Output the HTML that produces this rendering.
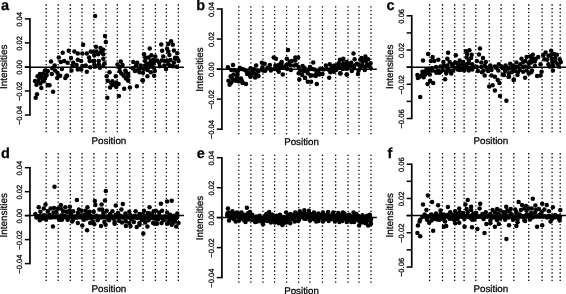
<!DOCTYPE html>
<html><head><meta charset="utf-8"><title>Intensities by position</title>
<style>html,body{margin:0;padding:0;background:#fff}svg text{font-family:"Liberation Sans",sans-serif;fill:#000;stroke:#000;stroke-width:.25px;font-kerning:none;text-rendering:geometricPrecision}.t{stroke:#000;stroke-width:.25}</style>
</head><body>
<svg width="566" height="294" viewBox="0 0 566 294" style="display:block;will-change:transform;filter:grayscale(1)"><rect width="566" height="294" fill="#fff"/><g><line x1="46.20" y1="4.35" x2="46.20" y2="132.37" stroke="#000" stroke-width="1.3" stroke-dasharray="1.3 2.427"/><line x1="58.20" y1="4.35" x2="58.20" y2="132.37" stroke="#000" stroke-width="1.3" stroke-dasharray="1.3 2.427"/><line x1="70.30" y1="4.35" x2="70.30" y2="132.37" stroke="#000" stroke-width="1.3" stroke-dasharray="1.3 2.427"/><line x1="82.00" y1="4.35" x2="82.00" y2="132.37" stroke="#000" stroke-width="1.3" stroke-dasharray="1.3 2.427"/><line x1="93.90" y1="4.35" x2="93.90" y2="132.37" stroke="#000" stroke-width="1.3" stroke-dasharray="1.3 2.427"/><line x1="106.00" y1="4.35" x2="106.00" y2="132.37" stroke="#000" stroke-width="1.3" stroke-dasharray="1.3 2.427"/><line x1="117.30" y1="4.35" x2="117.30" y2="132.37" stroke="#000" stroke-width="1.3" stroke-dasharray="1.3 2.427"/><line x1="129.80" y1="4.35" x2="129.80" y2="132.37" stroke="#000" stroke-width="1.3" stroke-dasharray="1.3 2.427"/><line x1="143.00" y1="4.35" x2="143.00" y2="132.37" stroke="#000" stroke-width="1.3" stroke-dasharray="1.3 2.427"/><line x1="155.40" y1="4.35" x2="155.40" y2="132.37" stroke="#000" stroke-width="1.3" stroke-dasharray="1.3 2.427"/><line x1="166.35" y1="4.35" x2="166.35" y2="132.37" stroke="#000" stroke-width="1.3" stroke-dasharray="1.3 2.427"/><line x1="178.35" y1="4.35" x2="178.35" y2="132.37" stroke="#000" stroke-width="1.3" stroke-dasharray="1.3 2.427"/><line x1="29.95" y1="18.15" x2="29.95" y2="115.75" stroke="#000" stroke-width="1.7"/><line x1="24.85" y1="18.90" x2="29.95" y2="18.90" stroke="#000" stroke-width="1.5"/><text transform="translate(21.90,19.40) rotate(-90)" font-size="7.6" text-anchor="middle">0.04</text><line x1="24.85" y1="42.92" x2="29.95" y2="42.92" stroke="#000" stroke-width="1.5"/><text transform="translate(21.90,43.42) rotate(-90)" font-size="7.6" text-anchor="middle">0.02</text><line x1="24.85" y1="66.95" x2="29.95" y2="66.95" stroke="#000" stroke-width="1.5"/><text transform="translate(21.90,67.45) rotate(-90)" font-size="7.6" text-anchor="middle">0.00</text><line x1="24.85" y1="90.97" x2="29.95" y2="90.97" stroke="#000" stroke-width="1.5"/><text transform="translate(21.90,91.47) rotate(-90)" font-size="7.6" text-anchor="middle">−0.02</text><line x1="24.85" y1="115.00" x2="29.95" y2="115.00" stroke="#000" stroke-width="1.5"/><text transform="translate(21.90,115.50) rotate(-90)" font-size="7.6" text-anchor="middle">−0.04</text><line x1="24.85" y1="67.15" x2="184.0" y2="67.15" stroke="#000" stroke-width="1.5"/><text transform="translate(7.00,66.80) rotate(-90)" font-size="9.9" text-anchor="middle">Intensities</text><text x="91.60" y="143.50" font-size="9.75">Position</text><text x="1.10" y="10.20" font-size="14.5" font-weight="bold">a</text><circle cx="51.0" cy="61.5" r="2.25"/><circle cx="58.8" cy="57.6" r="2.25"/><circle cx="62.7" cy="52.8" r="2.25"/><circle cx="68.7" cy="50.8" r="2.25"/><circle cx="74.4" cy="51.4" r="2.25"/><circle cx="77.8" cy="53.6" r="2.25"/><circle cx="82.3" cy="53.6" r="2.25"/><circle cx="86.8" cy="53.6" r="2.25"/><circle cx="90.8" cy="51.4" r="2.25"/><circle cx="83.2" cy="44.8" r="2.25"/><circle cx="71.0" cy="58.1" r="2.25"/><circle cx="64.2" cy="61.0" r="2.25"/><circle cx="60.8" cy="62.1" r="2.25"/><circle cx="67.6" cy="62.7" r="2.25"/><circle cx="77.8" cy="59.8" r="2.25"/><circle cx="81.2" cy="61.0" r="2.25"/><circle cx="73.2" cy="62.7" r="2.25"/><circle cx="89.1" cy="57.6" r="2.25"/><circle cx="89.7" cy="61.0" r="2.25"/><circle cx="54.6" cy="65.5" r="2.25"/><circle cx="72.7" cy="66.1" r="2.25"/><circle cx="76.6" cy="64.9" r="2.25"/><circle cx="82.3" cy="66.1" r="2.25"/><circle cx="85.7" cy="65.5" r="2.25"/><circle cx="90.2" cy="67.2" r="2.25"/><circle cx="61.9" cy="68.9" r="2.25"/><circle cx="71.5" cy="70.6" r="2.25"/><circle cx="77.8" cy="69.5" r="2.25"/><circle cx="81.2" cy="69.5" r="2.25"/><circle cx="86.8" cy="71.7" r="2.25"/><circle cx="52.3" cy="68.3" r="2.25"/><circle cx="55.1" cy="70.6" r="2.25"/><circle cx="57.4" cy="72.8" r="2.25"/><circle cx="45.0" cy="70.6" r="2.25"/><circle cx="47.8" cy="71.1" r="2.25"/><circle cx="43.3" cy="73.4" r="2.25"/><circle cx="39.9" cy="74.0" r="2.25"/><circle cx="46.7" cy="75.1" r="2.25"/><circle cx="51.8" cy="74.0" r="2.25"/><circle cx="66.5" cy="75.7" r="2.25"/><circle cx="58.5" cy="75.7" r="2.25"/><circle cx="37.6" cy="76.2" r="2.25"/><circle cx="35.0" cy="81.0" r="2.25"/><circle cx="36.5" cy="84.7" r="2.25"/><circle cx="39.3" cy="77.9" r="2.25"/><circle cx="40.4" cy="83.6" r="2.25"/><circle cx="41.3" cy="88.1" r="2.25"/><circle cx="42.7" cy="80.7" r="2.25"/><circle cx="45.0" cy="77.9" r="2.25"/><circle cx="47.8" cy="85.3" r="2.25"/><circle cx="49.5" cy="85.3" r="2.25"/><circle cx="53.1" cy="91.8" r="2.25"/><circle cx="37.0" cy="94.3" r="2.25"/><circle cx="35.7" cy="97.7" r="2.25"/><circle cx="57.2" cy="77.9" r="2.25"/><circle cx="60.2" cy="75.7" r="2.25"/><circle cx="65.3" cy="77.9" r="2.25"/><circle cx="67.0" cy="75.7" r="2.25"/><circle cx="105.0" cy="36.1" r="2.25"/><circle cx="105.8" cy="42.0" r="2.25"/><circle cx="96.0" cy="46.8" r="2.25"/><circle cx="100.5" cy="48.0" r="2.25"/><circle cx="149.7" cy="48.5" r="2.25"/><circle cx="95.1" cy="15.9" r="2.25"/><circle cx="103.3" cy="49.7" r="2.25"/><circle cx="93.1" cy="51.9" r="2.25"/><circle cx="98.2" cy="54.2" r="2.25"/><circle cx="94.3" cy="55.3" r="2.25"/><circle cx="103.3" cy="58.7" r="2.25"/><circle cx="98.8" cy="61.0" r="2.25"/><circle cx="104.4" cy="63.2" r="2.25"/><circle cx="94.3" cy="64.4" r="2.25"/><circle cx="99.9" cy="67.8" r="2.25"/><circle cx="93.1" cy="61.0" r="2.25"/><circle cx="109.5" cy="72.3" r="2.25"/><circle cx="106.7" cy="76.2" r="2.25"/><circle cx="120.8" cy="61.5" r="2.25"/><circle cx="117.5" cy="64.4" r="2.25"/><circle cx="122.5" cy="64.9" r="2.25"/><circle cx="119.7" cy="71.1" r="2.25"/><circle cx="125.4" cy="70.6" r="2.25"/><circle cx="128.2" cy="74.0" r="2.25"/><circle cx="123.7" cy="75.7" r="2.25"/><circle cx="115.8" cy="76.2" r="2.25"/><circle cx="144.0" cy="54.2" r="2.25"/><circle cx="151.4" cy="55.3" r="2.25"/><circle cx="155.3" cy="56.4" r="2.25"/><circle cx="133.3" cy="62.1" r="2.25"/><circle cx="145.2" cy="61.0" r="2.25"/><circle cx="150.8" cy="61.0" r="2.25"/><circle cx="136.1" cy="65.5" r="2.25"/><circle cx="140.6" cy="65.5" r="2.25"/><circle cx="146.3" cy="64.9" r="2.25"/><circle cx="152.5" cy="64.4" r="2.25"/><circle cx="132.7" cy="68.3" r="2.25"/><circle cx="138.4" cy="69.5" r="2.25"/><circle cx="144.0" cy="68.9" r="2.25"/><circle cx="148.6" cy="67.2" r="2.25"/><circle cx="153.7" cy="67.8" r="2.25"/><circle cx="142.9" cy="72.8" r="2.25"/><circle cx="147.4" cy="76.2" r="2.25"/><circle cx="154.2" cy="75.7" r="2.25"/><circle cx="107.8" cy="80.7" r="2.25"/><circle cx="112.4" cy="81.3" r="2.25"/><circle cx="116.3" cy="82.4" r="2.25"/><circle cx="118.6" cy="84.1" r="2.25"/><circle cx="112.4" cy="84.7" r="2.25"/><circle cx="110.1" cy="87.5" r="2.25"/><circle cx="116.3" cy="87.0" r="2.25"/><circle cx="124.2" cy="88.7" r="2.25"/><circle cx="129.9" cy="87.5" r="2.25"/><circle cx="136.9" cy="86.2" r="2.25"/><circle cx="142.9" cy="80.5" r="2.25"/><circle cx="107.3" cy="97.7" r="2.25"/><circle cx="118.9" cy="96.0" r="2.25"/><circle cx="125.9" cy="78.5" r="2.25"/><circle cx="128.2" cy="80.7" r="2.25"/><circle cx="135.0" cy="70.6" r="2.25"/><circle cx="161.3" cy="44.5" r="2.25"/><circle cx="162.1" cy="50.7" r="2.25"/><circle cx="171.1" cy="41.3" r="2.25"/><circle cx="168.3" cy="44.1" r="2.25"/><circle cx="172.8" cy="44.7" r="2.25"/><circle cx="167.1" cy="48.7" r="2.25"/><circle cx="168.3" cy="51.5" r="2.25"/><circle cx="173.9" cy="50.4" r="2.25"/><circle cx="177.3" cy="53.2" r="2.25"/><circle cx="169.4" cy="54.9" r="2.25"/><circle cx="163.2" cy="56.6" r="2.25"/><circle cx="175.1" cy="57.7" r="2.25"/><circle cx="170.5" cy="60.0" r="2.25"/><circle cx="157.0" cy="60.5" r="2.25"/><circle cx="161.5" cy="60.5" r="2.25"/><circle cx="164.9" cy="61.1" r="2.25"/><circle cx="178.5" cy="61.1" r="2.25"/><circle cx="142.5" cy="80.3" r="2.25"/><circle cx="159.2" cy="62.8" r="2.25"/><circle cx="159.8" cy="66.2" r="2.25"/><circle cx="166.0" cy="69.0" r="2.25"/><circle cx="164.3" cy="65.6" r="2.25"/><circle cx="170.0" cy="65.6" r="2.25"/><circle cx="176.8" cy="66.7" r="2.25"/><circle cx="175.1" cy="58.8" r="2.25"/><circle cx="96.5" cy="51.4" r="2.25"/><circle cx="101.0" cy="51.9" r="2.25"/><circle cx="98.8" cy="64.4" r="2.25"/><circle cx="103.3" cy="66.1" r="2.25"/><circle cx="95.4" cy="66.6" r="2.25"/><circle cx="94.3" cy="61.0" r="2.25"/><circle cx="103.3" cy="54.2" r="2.25"/><circle cx="119.7" cy="67.2" r="2.25"/><circle cx="121.4" cy="73.6" r="2.25"/><circle cx="137.2" cy="62.7" r="2.25"/><circle cx="140.6" cy="68.3" r="2.25"/><circle cx="145.2" cy="65.5" r="2.25"/><circle cx="148.6" cy="63.8" r="2.25"/><circle cx="150.8" cy="66.6" r="2.25"/><circle cx="154.2" cy="62.1" r="2.25"/><circle cx="147.4" cy="70.0" r="2.25"/><circle cx="135.0" cy="71.1" r="2.25"/><circle cx="139.5" cy="72.3" r="2.25"/><circle cx="150.8" cy="72.3" r="2.25"/><circle cx="154.8" cy="71.1" r="2.25"/><circle cx="148.6" cy="57.6" r="2.25"/><circle cx="153.1" cy="59.8" r="2.25"/><circle cx="145.2" cy="57.6" r="2.25"/><circle cx="128.2" cy="76.8" r="2.25"/><circle cx="111.2" cy="83.0" r="2.25"/><circle cx="114.6" cy="85.3" r="2.25"/><circle cx="125.9" cy="72.3" r="2.25"/><circle cx="173.9" cy="62.8" r="2.25"/><circle cx="167.1" cy="60.5" r="2.25"/><circle cx="168.3" cy="63.9" r="2.25"/><circle cx="172.8" cy="66.2" r="2.25"/><circle cx="177.3" cy="58.3" r="2.25"/><circle cx="41.6" cy="76.8" r="2.25"/><circle cx="38.2" cy="81.3" r="2.25"/><circle cx="46.1" cy="75.7" r="2.25"/><circle cx="43.8" cy="81.3" r="2.25"/></g><g><line x1="238.85" y1="6.25" x2="238.85" y2="134.27" stroke="#000" stroke-width="1.3" stroke-dasharray="1.3 2.427"/><line x1="250.85" y1="6.25" x2="250.85" y2="134.27" stroke="#000" stroke-width="1.3" stroke-dasharray="1.3 2.427"/><line x1="262.95" y1="6.25" x2="262.95" y2="134.27" stroke="#000" stroke-width="1.3" stroke-dasharray="1.3 2.427"/><line x1="274.65" y1="6.25" x2="274.65" y2="134.27" stroke="#000" stroke-width="1.3" stroke-dasharray="1.3 2.427"/><line x1="286.55" y1="6.25" x2="286.55" y2="134.27" stroke="#000" stroke-width="1.3" stroke-dasharray="1.3 2.427"/><line x1="298.65" y1="6.25" x2="298.65" y2="134.27" stroke="#000" stroke-width="1.3" stroke-dasharray="1.3 2.427"/><line x1="309.95" y1="6.25" x2="309.95" y2="134.27" stroke="#000" stroke-width="1.3" stroke-dasharray="1.3 2.427"/><line x1="322.45" y1="6.25" x2="322.45" y2="134.27" stroke="#000" stroke-width="1.3" stroke-dasharray="1.3 2.427"/><line x1="335.65" y1="6.25" x2="335.65" y2="134.27" stroke="#000" stroke-width="1.3" stroke-dasharray="1.3 2.427"/><line x1="348.05" y1="6.25" x2="348.05" y2="134.27" stroke="#000" stroke-width="1.3" stroke-dasharray="1.3 2.427"/><line x1="359.00" y1="6.25" x2="359.00" y2="134.27" stroke="#000" stroke-width="1.3" stroke-dasharray="1.3 2.427"/><line x1="371.00" y1="6.25" x2="371.00" y2="134.27" stroke="#000" stroke-width="1.3" stroke-dasharray="1.3 2.427"/><line x1="221.9" y1="8.25" x2="221.9" y2="129.90" stroke="#000" stroke-width="1.7"/><line x1="216.80" y1="9.00" x2="221.90" y2="9.00" stroke="#000" stroke-width="1.5"/><text transform="translate(214.30,9.50) rotate(-90)" font-size="7.6" text-anchor="middle">0.04</text><line x1="216.80" y1="39.04" x2="221.90" y2="39.04" stroke="#000" stroke-width="1.5"/><text transform="translate(214.30,39.54) rotate(-90)" font-size="7.6" text-anchor="middle">0.02</text><line x1="216.80" y1="69.08" x2="221.90" y2="69.08" stroke="#000" stroke-width="1.5"/><text transform="translate(214.30,69.58) rotate(-90)" font-size="7.6" text-anchor="middle">0.00</text><line x1="216.80" y1="99.11" x2="221.90" y2="99.11" stroke="#000" stroke-width="1.5"/><text transform="translate(214.30,99.61) rotate(-90)" font-size="7.6" text-anchor="middle">−0.02</text><line x1="216.80" y1="129.15" x2="221.90" y2="129.15" stroke="#000" stroke-width="1.5"/><text transform="translate(214.30,129.65) rotate(-90)" font-size="7.6" text-anchor="middle">−0.04</text><line x1="216.80" y1="69.15" x2="376.8" y2="69.15" stroke="#000" stroke-width="1.5"/><text transform="translate(202.90,69.50) rotate(-90)" font-size="9.9" text-anchor="middle">Intensities</text><text x="284.20" y="144.75" font-size="9.75">Position</text><text x="196.20" y="10.20" font-size="14.5" font-weight="bold">b</text><circle cx="227.9" cy="67.2" r="2.25"/><circle cx="233.0" cy="64.9" r="2.25"/><circle cx="239.8" cy="67.8" r="2.25"/><circle cx="231.3" cy="70.0" r="2.25"/><circle cx="237.0" cy="71.1" r="2.25"/><circle cx="243.8" cy="69.5" r="2.25"/><circle cx="250.5" cy="68.3" r="2.25"/><circle cx="256.2" cy="65.5" r="2.25"/><circle cx="261.9" cy="62.7" r="2.25"/><circle cx="264.7" cy="63.8" r="2.25"/><circle cx="273.7" cy="57.6" r="2.25"/><circle cx="276.0" cy="58.7" r="2.25"/><circle cx="269.8" cy="64.9" r="2.25"/><circle cx="275.4" cy="65.5" r="2.25"/><circle cx="281.7" cy="62.1" r="2.25"/><circle cx="278.8" cy="64.9" r="2.25"/><circle cx="267.5" cy="68.3" r="2.25"/><circle cx="261.9" cy="68.9" r="2.25"/><circle cx="257.3" cy="70.6" r="2.25"/><circle cx="252.8" cy="71.7" r="2.25"/><circle cx="248.3" cy="72.3" r="2.25"/><circle cx="270.9" cy="70.6" r="2.25"/><circle cx="278.8" cy="71.7" r="2.25"/><circle cx="282.8" cy="74.5" r="2.25"/><circle cx="282.8" cy="66.6" r="2.25"/><circle cx="230.7" cy="76.2" r="2.25"/><circle cx="237.5" cy="74.5" r="2.25"/><circle cx="250.5" cy="75.1" r="2.25"/><circle cx="256.2" cy="74.5" r="2.25"/><circle cx="229.6" cy="84.7" r="2.25"/><circle cx="228.5" cy="80.7" r="2.25"/><circle cx="231.3" cy="77.3" r="2.25"/><circle cx="233.6" cy="80.1" r="2.25"/><circle cx="237.0" cy="77.9" r="2.25"/><circle cx="238.7" cy="81.3" r="2.25"/><circle cx="242.6" cy="82.4" r="2.25"/><circle cx="246.0" cy="84.1" r="2.25"/><circle cx="240.9" cy="78.4" r="2.25"/><circle cx="250.5" cy="76.7" r="2.25"/><circle cx="247.1" cy="73.9" r="2.25"/><circle cx="257.9" cy="76.2" r="2.25"/><circle cx="263.0" cy="70.5" r="2.25"/><circle cx="288.0" cy="50.0" r="2.25"/><circle cx="286.8" cy="58.7" r="2.25"/><circle cx="295.3" cy="57.5" r="2.25"/><circle cx="298.1" cy="57.5" r="2.25"/><circle cx="291.9" cy="60.9" r="2.25"/><circle cx="313.2" cy="62.6" r="2.25"/><circle cx="342.8" cy="59.8" r="2.25"/><circle cx="288.5" cy="64.3" r="2.25"/><circle cx="294.2" cy="65.5" r="2.25"/><circle cx="298.7" cy="67.1" r="2.25"/><circle cx="286.3" cy="67.7" r="2.25"/><circle cx="290.8" cy="70.0" r="2.25"/><circle cx="304.4" cy="67.7" r="2.25"/><circle cx="310.0" cy="67.1" r="2.25"/><circle cx="301.0" cy="70.5" r="2.25"/><circle cx="306.6" cy="71.1" r="2.25"/><circle cx="314.5" cy="69.4" r="2.25"/><circle cx="320.2" cy="68.8" r="2.25"/><circle cx="325.9" cy="65.5" r="2.25"/><circle cx="329.8" cy="64.3" r="2.25"/><circle cx="333.8" cy="66.6" r="2.25"/><circle cx="338.3" cy="64.3" r="2.25"/><circle cx="345.7" cy="64.3" r="2.25"/><circle cx="323.6" cy="69.4" r="2.25"/><circle cx="329.2" cy="70.0" r="2.25"/><circle cx="336.0" cy="70.0" r="2.25"/><circle cx="341.7" cy="68.3" r="2.25"/><circle cx="346.2" cy="68.8" r="2.25"/><circle cx="299.3" cy="79.5" r="2.25"/><circle cx="304.9" cy="77.8" r="2.25"/><circle cx="307.8" cy="81.8" r="2.25"/><circle cx="311.1" cy="81.8" r="2.25"/><circle cx="316.8" cy="84.1" r="2.25"/><circle cx="329.2" cy="77.8" r="2.25"/><circle cx="340.2" cy="73.3" r="2.25"/><circle cx="346.8" cy="74.4" r="2.25"/><circle cx="298.7" cy="73.3" r="2.25"/><circle cx="302.1" cy="75.0" r="2.25"/><circle cx="310.6" cy="75.6" r="2.25"/><circle cx="307.8" cy="73.3" r="2.25"/><circle cx="315.7" cy="76.1" r="2.25"/><circle cx="319.1" cy="74.4" r="2.25"/><circle cx="322.5" cy="73.9" r="2.25"/><circle cx="317.9" cy="71.0" r="2.25"/><circle cx="330.4" cy="72.2" r="2.25"/><circle cx="353.5" cy="53.6" r="2.25"/><circle cx="354.6" cy="59.3" r="2.25"/><circle cx="346.7" cy="62.1" r="2.25"/><circle cx="338.8" cy="63.2" r="2.25"/><circle cx="334.3" cy="65.5" r="2.25"/><circle cx="351.2" cy="62.7" r="2.25"/><circle cx="361.4" cy="58.1" r="2.25"/><circle cx="365.4" cy="56.4" r="2.25"/><circle cx="368.2" cy="59.3" r="2.25"/><circle cx="362.5" cy="62.1" r="2.25"/><circle cx="370.5" cy="63.2" r="2.25"/><circle cx="356.9" cy="63.8" r="2.25"/><circle cx="343.3" cy="66.1" r="2.25"/><circle cx="349.0" cy="66.6" r="2.25"/><circle cx="337.7" cy="68.3" r="2.25"/><circle cx="354.1" cy="68.3" r="2.25"/><circle cx="360.3" cy="67.2" r="2.25"/><circle cx="365.9" cy="66.6" r="2.25"/><circle cx="370.5" cy="67.8" r="2.25"/><circle cx="333.7" cy="70.6" r="2.25"/><circle cx="340.5" cy="73.6" r="2.25"/><circle cx="346.7" cy="74.5" r="2.25"/><circle cx="358.0" cy="74.0" r="2.25"/><circle cx="351.8" cy="71.1" r="2.25"/><circle cx="358.6" cy="70.6" r="2.25"/><circle cx="364.8" cy="70.0" r="2.25"/><circle cx="246.0" cy="70.7" r="2.25"/><circle cx="249.4" cy="72.9" r="2.25"/><circle cx="253.9" cy="69.0" r="2.25"/><circle cx="253.9" cy="73.5" r="2.25"/><circle cx="258.5" cy="71.2" r="2.25"/><circle cx="258.5" cy="75.8" r="2.25"/><circle cx="262.4" cy="67.3" r="2.25"/><circle cx="265.2" cy="70.7" r="2.25"/><circle cx="267.5" cy="67.8" r="2.25"/><circle cx="270.9" cy="69.0" r="2.25"/><circle cx="274.3" cy="69.0" r="2.25"/><circle cx="277.7" cy="66.7" r="2.25"/><circle cx="281.1" cy="67.8" r="2.25"/><circle cx="281.1" cy="63.3" r="2.25"/><circle cx="277.7" cy="70.1" r="2.25"/><circle cx="250.5" cy="76.3" r="2.25"/><circle cx="255.1" cy="77.5" r="2.25"/><circle cx="232.4" cy="78.6" r="2.25"/><circle cx="237.0" cy="76.3" r="2.25"/><circle cx="235.8" cy="80.8" r="2.25"/><circle cx="241.5" cy="80.3" r="2.25"/><circle cx="242.6" cy="83.1" r="2.25"/><circle cx="231.3" cy="82.5" r="2.25"/><circle cx="233.6" cy="74.6" r="2.25"/><circle cx="234.7" cy="70.1" r="2.25"/><circle cx="238.1" cy="70.7" r="2.25"/><circle cx="241.5" cy="69.0" r="2.25"/><circle cx="289.7" cy="61.6" r="2.25"/><circle cx="295.3" cy="60.5" r="2.25"/><circle cx="286.3" cy="65.0" r="2.25"/><circle cx="290.8" cy="65.6" r="2.25"/><circle cx="296.4" cy="65.0" r="2.25"/><circle cx="287.4" cy="69.0" r="2.25"/><circle cx="327.0" cy="69.0" r="2.25"/><circle cx="331.5" cy="66.7" r="2.25"/><circle cx="334.9" cy="69.0" r="2.25"/><circle cx="338.3" cy="66.7" r="2.25"/><circle cx="342.8" cy="64.4" r="2.25"/><circle cx="342.8" cy="69.0" r="2.25"/><circle cx="346.2" cy="66.7" r="2.25"/><circle cx="333.8" cy="71.8" r="2.25"/><circle cx="304.4" cy="70.1" r="2.25"/><circle cx="312.3" cy="69.0" r="2.25"/><circle cx="317.9" cy="71.8" r="2.25"/><circle cx="321.3" cy="69.0" r="2.25"/><circle cx="315.7" cy="74.6" r="2.25"/><circle cx="365.9" cy="61.0" r="2.25"/><circle cx="367.1" cy="64.4" r="2.25"/><circle cx="362.5" cy="66.1" r="2.25"/><circle cx="359.1" cy="64.9" r="2.25"/><circle cx="354.6" cy="65.5" r="2.25"/><circle cx="351.2" cy="66.6" r="2.25"/><circle cx="346.7" cy="67.8" r="2.25"/><circle cx="343.3" cy="63.8" r="2.25"/><circle cx="338.8" cy="66.6" r="2.25"/><circle cx="360.3" cy="59.8" r="2.25"/><circle cx="364.8" cy="59.8" r="2.25"/><circle cx="349.0" cy="64.4" r="2.25"/><circle cx="369.3" cy="66.1" r="2.25"/><circle cx="339.9" cy="59.8" r="2.25"/><circle cx="343.3" cy="58.7" r="2.25"/><circle cx="303.4" cy="71.2" r="2.25"/><circle cx="308.5" cy="69.5" r="2.25"/><circle cx="311.9" cy="75.5" r="2.25"/><circle cx="317.0" cy="72.1" r="2.25"/><circle cx="305.1" cy="78.0" r="2.25"/><circle cx="320.4" cy="73.8" r="2.25"/><circle cx="302.6" cy="66.1" r="2.25"/></g><g><line x1="429.60" y1="4.35" x2="429.60" y2="132.37" stroke="#000" stroke-width="1.3" stroke-dasharray="1.3 2.427"/><line x1="442.50" y1="4.35" x2="442.50" y2="132.37" stroke="#000" stroke-width="1.3" stroke-dasharray="1.3 2.427"/><line x1="454.70" y1="4.35" x2="454.70" y2="132.37" stroke="#000" stroke-width="1.3" stroke-dasharray="1.3 2.427"/><line x1="464.10" y1="4.35" x2="464.10" y2="132.37" stroke="#000" stroke-width="1.3" stroke-dasharray="1.3 2.427"/><line x1="475.80" y1="4.35" x2="475.80" y2="132.37" stroke="#000" stroke-width="1.3" stroke-dasharray="1.3 2.427"/><line x1="489.25" y1="4.35" x2="489.25" y2="132.37" stroke="#000" stroke-width="1.3" stroke-dasharray="1.3 2.427"/><line x1="501.10" y1="4.35" x2="501.10" y2="132.37" stroke="#000" stroke-width="1.3" stroke-dasharray="1.3 2.427"/><line x1="513.80" y1="4.35" x2="513.80" y2="132.37" stroke="#000" stroke-width="1.3" stroke-dasharray="1.3 2.427"/><line x1="528.70" y1="4.35" x2="528.70" y2="132.37" stroke="#000" stroke-width="1.3" stroke-dasharray="1.3 2.427"/><line x1="542.10" y1="4.35" x2="542.10" y2="132.37" stroke="#000" stroke-width="1.3" stroke-dasharray="1.3 2.427"/><line x1="552.10" y1="4.35" x2="552.10" y2="132.37" stroke="#000" stroke-width="1.3" stroke-dasharray="1.3 2.427"/><line x1="560.20" y1="4.35" x2="560.20" y2="132.37" stroke="#000" stroke-width="1.3" stroke-dasharray="1.3 2.427"/><line x1="411.75" y1="15.05" x2="411.75" y2="119.25" stroke="#000" stroke-width="1.7"/><line x1="406.65" y1="15.80" x2="411.75" y2="15.80" stroke="#000" stroke-width="1.5"/><text transform="translate(404.20,16.30) rotate(-90)" font-size="7.6" text-anchor="middle">0.06</text><line x1="406.65" y1="32.92" x2="411.75" y2="32.92" stroke="#000" stroke-width="1.5"/><line x1="406.65" y1="50.03" x2="411.75" y2="50.03" stroke="#000" stroke-width="1.5"/><text transform="translate(404.20,50.53) rotate(-90)" font-size="7.6" text-anchor="middle">0.02</text><line x1="406.65" y1="67.15" x2="411.75" y2="67.15" stroke="#000" stroke-width="1.5"/><line x1="406.65" y1="84.27" x2="411.75" y2="84.27" stroke="#000" stroke-width="1.5"/><text transform="translate(404.20,84.77) rotate(-90)" font-size="7.6" text-anchor="middle">−0.02</text><line x1="406.65" y1="101.38" x2="411.75" y2="101.38" stroke="#000" stroke-width="1.5"/><line x1="406.65" y1="118.50" x2="411.75" y2="118.50" stroke="#000" stroke-width="1.5"/><text transform="translate(404.20,119.00) rotate(-90)" font-size="7.6" text-anchor="middle">−0.06</text><line x1="406.65" y1="67.15" x2="566" y2="67.15" stroke="#000" stroke-width="1.5"/><text transform="translate(392.60,66.80) rotate(-90)" font-size="9.9" text-anchor="middle">Intensities</text><text x="473.50" y="143.50" font-size="9.75">Position</text><text x="386.50" y="10.20" font-size="14.5" font-weight="bold">c</text><circle cx="423.0" cy="60.4" r="2.25"/><circle cx="428.1" cy="54.1" r="2.25"/><circle cx="432.6" cy="57.0" r="2.25"/><circle cx="430.9" cy="60.9" r="2.25"/><circle cx="434.3" cy="60.9" r="2.25"/><circle cx="438.3" cy="59.8" r="2.25"/><circle cx="448.1" cy="52.8" r="2.25"/><circle cx="447.3" cy="58.7" r="2.25"/><circle cx="443.4" cy="62.1" r="2.25"/><circle cx="449.6" cy="62.1" r="2.25"/><circle cx="455.8" cy="55.3" r="2.25"/><circle cx="459.8" cy="60.4" r="2.25"/><circle cx="455.2" cy="62.6" r="2.25"/><circle cx="463.2" cy="62.1" r="2.25"/><circle cx="466.0" cy="51.3" r="2.25"/><circle cx="469.4" cy="50.2" r="2.25"/><circle cx="467.1" cy="54.1" r="2.25"/><circle cx="471.7" cy="54.7" r="2.25"/><circle cx="466.6" cy="57.5" r="2.25"/><circle cx="468.8" cy="63.2" r="2.25"/><circle cx="472.2" cy="64.3" r="2.25"/><circle cx="436.0" cy="67.1" r="2.25"/><circle cx="440.5" cy="66.6" r="2.25"/><circle cx="447.3" cy="65.5" r="2.25"/><circle cx="453.0" cy="66.6" r="2.25"/><circle cx="458.6" cy="65.5" r="2.25"/><circle cx="464.3" cy="67.1" r="2.25"/><circle cx="471.1" cy="67.7" r="2.25"/><circle cx="432.1" cy="68.3" r="2.25"/><circle cx="426.4" cy="69.4" r="2.25"/><circle cx="422.4" cy="71.7" r="2.25"/><circle cx="438.3" cy="70.5" r="2.25"/><circle cx="442.8" cy="70.0" r="2.25"/><circle cx="453.0" cy="70.5" r="2.25"/><circle cx="459.8" cy="70.0" r="2.25"/><circle cx="420.2" cy="97.1" r="2.25"/><circle cx="427.5" cy="84.1" r="2.25"/><circle cx="430.1" cy="80.7" r="2.25"/><circle cx="433.2" cy="83.0" r="2.25"/><circle cx="445.1" cy="79.2" r="2.25"/><circle cx="417.9" cy="77.9" r="2.25"/><circle cx="417.4" cy="75.0" r="2.25"/><circle cx="421.3" cy="75.6" r="2.25"/><circle cx="425.3" cy="74.5" r="2.25"/><circle cx="429.8" cy="74.5" r="2.25"/><circle cx="436.6" cy="72.8" r="2.25"/><circle cx="446.2" cy="73.4" r="2.25"/><circle cx="451.3" cy="73.4" r="2.25"/><circle cx="480.0" cy="48.5" r="2.25"/><circle cx="479.0" cy="54.5" r="2.25"/><circle cx="483.0" cy="58.1" r="2.25"/><circle cx="476.8" cy="60.9" r="2.25"/><circle cx="481.3" cy="62.6" r="2.25"/><circle cx="485.8" cy="62.1" r="2.25"/><circle cx="490.4" cy="65.5" r="2.25"/><circle cx="498.8" cy="64.3" r="2.25"/><circle cx="510.2" cy="63.8" r="2.25"/><circle cx="505.6" cy="65.5" r="2.25"/><circle cx="516.4" cy="62.6" r="2.25"/><circle cx="521.5" cy="58.7" r="2.25"/><circle cx="525.4" cy="60.9" r="2.25"/><circle cx="530.0" cy="56.4" r="2.25"/><circle cx="532.8" cy="54.7" r="2.25"/><circle cx="531.7" cy="59.8" r="2.25"/><circle cx="528.8" cy="63.2" r="2.25"/><circle cx="520.3" cy="64.3" r="2.25"/><circle cx="524.9" cy="66.6" r="2.25"/><circle cx="515.2" cy="67.1" r="2.25"/><circle cx="509.6" cy="68.3" r="2.25"/><circle cx="502.8" cy="68.3" r="2.25"/><circle cx="496.0" cy="67.7" r="2.25"/><circle cx="487.0" cy="67.7" r="2.25"/><circle cx="481.3" cy="67.1" r="2.25"/><circle cx="476.8" cy="67.1" r="2.25"/><circle cx="472.3" cy="69.4" r="2.25"/><circle cx="477.9" cy="71.1" r="2.25"/><circle cx="491.5" cy="70.0" r="2.25"/><circle cx="498.3" cy="70.5" r="2.25"/><circle cx="505.1" cy="71.1" r="2.25"/><circle cx="519.8" cy="70.0" r="2.25"/><circle cx="526.6" cy="70.5" r="2.25"/><circle cx="484.7" cy="75.6" r="2.25"/><circle cx="481.9" cy="72.2" r="2.25"/><circle cx="491.5" cy="75.6" r="2.25"/><circle cx="494.9" cy="76.7" r="2.25"/><circle cx="497.7" cy="80.1" r="2.25"/><circle cx="499.4" cy="83.0" r="2.25"/><circle cx="492.6" cy="85.2" r="2.25"/><circle cx="489.2" cy="86.4" r="2.25"/><circle cx="494.9" cy="90.4" r="2.25"/><circle cx="500.0" cy="96.1" r="2.25"/><circle cx="506.4" cy="100.7" r="2.25"/><circle cx="508.5" cy="76.7" r="2.25"/><circle cx="513.6" cy="80.1" r="2.25"/><circle cx="525.1" cy="77.7" r="2.25"/><circle cx="528.8" cy="73.4" r="2.25"/><circle cx="517.5" cy="75.0" r="2.25"/><circle cx="502.8" cy="74.5" r="2.25"/><circle cx="511.9" cy="72.2" r="2.25"/><circle cx="538.2" cy="57.0" r="2.25"/><circle cx="534.8" cy="61.5" r="2.25"/><circle cx="540.5" cy="64.3" r="2.25"/><circle cx="545.6" cy="52.4" r="2.25"/><circle cx="551.2" cy="50.7" r="2.25"/><circle cx="543.3" cy="55.3" r="2.25"/><circle cx="548.4" cy="55.8" r="2.25"/><circle cx="556.9" cy="54.7" r="2.25"/><circle cx="544.4" cy="59.2" r="2.25"/><circle cx="551.8" cy="58.7" r="2.25"/><circle cx="555.2" cy="58.1" r="2.25"/><circle cx="559.7" cy="59.2" r="2.25"/><circle cx="548.4" cy="64.3" r="2.25"/><circle cx="552.3" cy="62.1" r="2.25"/><circle cx="557.4" cy="63.8" r="2.25"/><circle cx="549.5" cy="66.6" r="2.25"/><circle cx="558.6" cy="66.6" r="2.25"/><circle cx="532.0" cy="70.5" r="2.25"/><circle cx="541.6" cy="71.7" r="2.25"/><circle cx="552.9" cy="70.5" r="2.25"/><circle cx="535.0" cy="66.0" r="2.25"/><circle cx="513.9" cy="79.5" r="2.25"/><circle cx="537.1" cy="76.1" r="2.25"/><circle cx="540.5" cy="75.6" r="2.25"/><circle cx="509.0" cy="76.7" r="2.25"/><circle cx="504.0" cy="75.0" r="2.25"/><circle cx="443.9" cy="65.5" r="2.25"/><circle cx="451.9" cy="64.3" r="2.25"/><circle cx="457.5" cy="63.2" r="2.25"/><circle cx="462.0" cy="64.3" r="2.25"/><circle cx="466.6" cy="64.3" r="2.25"/><circle cx="456.4" cy="67.7" r="2.25"/><circle cx="459.8" cy="67.7" r="2.25"/><circle cx="447.3" cy="68.3" r="2.25"/><circle cx="468.8" cy="60.4" r="2.25"/><circle cx="471.1" cy="58.1" r="2.25"/><circle cx="467.7" cy="67.7" r="2.25"/><circle cx="449.6" cy="70.5" r="2.25"/><circle cx="446.2" cy="71.7" r="2.25"/><circle cx="464.3" cy="70.5" r="2.25"/><circle cx="468.8" cy="70.5" r="2.25"/><circle cx="432.6" cy="70.5" r="2.25"/><circle cx="436.0" cy="71.7" r="2.25"/><circle cx="440.5" cy="71.7" r="2.25"/><circle cx="429.2" cy="70.0" r="2.25"/><circle cx="419.6" cy="76.7" r="2.25"/><circle cx="423.6" cy="77.3" r="2.25"/><circle cx="427.0" cy="72.8" r="2.25"/><circle cx="424.1" cy="71.7" r="2.25"/><circle cx="439.4" cy="72.8" r="2.25"/><circle cx="448.5" cy="70.5" r="2.25"/><circle cx="457.5" cy="69.4" r="2.25"/><circle cx="462.0" cy="69.4" r="2.25"/><circle cx="468.8" cy="69.4" r="2.25"/><circle cx="430.4" cy="70.5" r="2.25"/><circle cx="473.4" cy="67.1" r="2.25"/><circle cx="484.7" cy="65.5" r="2.25"/><circle cx="494.9" cy="66.6" r="2.25"/><circle cx="501.7" cy="66.6" r="2.25"/><circle cx="507.3" cy="67.7" r="2.25"/><circle cx="513.0" cy="65.5" r="2.25"/><circle cx="517.5" cy="67.1" r="2.25"/><circle cx="523.2" cy="67.1" r="2.25"/><circle cx="528.8" cy="67.1" r="2.25"/><circle cx="483.6" cy="70.5" r="2.25"/><circle cx="488.1" cy="71.1" r="2.25"/><circle cx="515.2" cy="71.1" r="2.25"/><circle cx="523.2" cy="71.7" r="2.25"/><circle cx="531.1" cy="72.2" r="2.25"/><circle cx="532.8" cy="58.7" r="2.25"/><circle cx="526.6" cy="57.0" r="2.25"/><circle cx="531.1" cy="62.6" r="2.25"/><circle cx="523.2" cy="62.1" r="2.25"/><circle cx="547.2" cy="59.8" r="2.25"/><circle cx="550.6" cy="55.3" r="2.25"/><circle cx="554.0" cy="54.1" r="2.25"/><circle cx="555.2" cy="61.5" r="2.25"/><circle cx="560.8" cy="62.1" r="2.25"/><circle cx="552.9" cy="65.5" r="2.25"/><circle cx="535.9" cy="58.7" r="2.25"/><circle cx="530.3" cy="61.5" r="2.25"/><circle cx="507.7" cy="68.8" r="2.25"/><circle cx="513.3" cy="68.8" r="2.25"/><circle cx="517.8" cy="72.2" r="2.25"/><circle cx="508.8" cy="73.3" r="2.25"/></g><g><line x1="46.20" y1="153.10" x2="46.20" y2="281.12" stroke="#000" stroke-width="1.3" stroke-dasharray="1.3 2.427"/><line x1="58.20" y1="153.10" x2="58.20" y2="281.12" stroke="#000" stroke-width="1.3" stroke-dasharray="1.3 2.427"/><line x1="70.30" y1="153.10" x2="70.30" y2="281.12" stroke="#000" stroke-width="1.3" stroke-dasharray="1.3 2.427"/><line x1="82.00" y1="153.10" x2="82.00" y2="281.12" stroke="#000" stroke-width="1.3" stroke-dasharray="1.3 2.427"/><line x1="93.90" y1="153.10" x2="93.90" y2="281.12" stroke="#000" stroke-width="1.3" stroke-dasharray="1.3 2.427"/><line x1="106.00" y1="153.10" x2="106.00" y2="281.12" stroke="#000" stroke-width="1.3" stroke-dasharray="1.3 2.427"/><line x1="117.30" y1="153.10" x2="117.30" y2="281.12" stroke="#000" stroke-width="1.3" stroke-dasharray="1.3 2.427"/><line x1="129.80" y1="153.10" x2="129.80" y2="281.12" stroke="#000" stroke-width="1.3" stroke-dasharray="1.3 2.427"/><line x1="143.00" y1="153.10" x2="143.00" y2="281.12" stroke="#000" stroke-width="1.3" stroke-dasharray="1.3 2.427"/><line x1="155.40" y1="153.10" x2="155.40" y2="281.12" stroke="#000" stroke-width="1.3" stroke-dasharray="1.3 2.427"/><line x1="166.35" y1="153.10" x2="166.35" y2="281.12" stroke="#000" stroke-width="1.3" stroke-dasharray="1.3 2.427"/><line x1="178.35" y1="153.10" x2="178.35" y2="281.12" stroke="#000" stroke-width="1.3" stroke-dasharray="1.3 2.427"/><line x1="29.95" y1="166.95" x2="29.95" y2="264.35" stroke="#000" stroke-width="1.7"/><line x1="24.85" y1="167.70" x2="29.95" y2="167.70" stroke="#000" stroke-width="1.5"/><text transform="translate(21.90,168.20) rotate(-90)" font-size="7.6" text-anchor="middle">0.04</text><line x1="24.85" y1="191.68" x2="29.95" y2="191.68" stroke="#000" stroke-width="1.5"/><text transform="translate(21.90,192.18) rotate(-90)" font-size="7.6" text-anchor="middle">0.02</text><line x1="24.85" y1="215.65" x2="29.95" y2="215.65" stroke="#000" stroke-width="1.5"/><text transform="translate(21.90,216.15) rotate(-90)" font-size="7.6" text-anchor="middle">0.00</text><line x1="24.85" y1="239.62" x2="29.95" y2="239.62" stroke="#000" stroke-width="1.5"/><text transform="translate(21.90,240.12) rotate(-90)" font-size="7.6" text-anchor="middle">−0.02</text><line x1="24.85" y1="263.60" x2="29.95" y2="263.60" stroke="#000" stroke-width="1.5"/><text transform="translate(21.90,264.10) rotate(-90)" font-size="7.6" text-anchor="middle">−0.04</text><line x1="24.85" y1="215.60" x2="184.0" y2="215.60" stroke="#000" stroke-width="1.5"/><text transform="translate(7.00,215.25) rotate(-90)" font-size="9.9" text-anchor="middle">Intensities</text><text x="91.60" y="291.95" font-size="9.75">Position</text><text x="1.10" y="157.70" font-size="14.5" font-weight="bold">d</text><polyline fill="none" stroke="#000" stroke-linecap="round" stroke-linejoin="round" stroke-width="5" points="37.0,216.8 177.0,217.2"/><circle cx="54.5" cy="186.7" r="2.25"/><circle cx="76.9" cy="200.0" r="2.25"/><circle cx="38.7" cy="207.3" r="2.25"/><circle cx="45.5" cy="204.5" r="2.25"/><circle cx="43.8" cy="208.4" r="2.25"/><circle cx="35.4" cy="214.1" r="2.25"/><circle cx="36.5" cy="217.5" r="2.25"/><circle cx="39.9" cy="220.3" r="2.25"/><circle cx="46.1" cy="219.8" r="2.25"/><circle cx="52.9" cy="226.5" r="2.25"/><circle cx="47.8" cy="211.3" r="2.25"/><circle cx="49.5" cy="214.7" r="2.25"/><circle cx="54.0" cy="207.9" r="2.25"/><circle cx="53.5" cy="212.4" r="2.25"/><circle cx="60.8" cy="205.0" r="2.25"/><circle cx="58.0" cy="208.4" r="2.25"/><circle cx="56.8" cy="216.4" r="2.25"/><circle cx="59.1" cy="219.8" r="2.25"/><circle cx="63.1" cy="211.3" r="2.25"/><circle cx="65.3" cy="207.3" r="2.25"/><circle cx="69.9" cy="206.7" r="2.25"/><circle cx="67.6" cy="211.8" r="2.25"/><circle cx="64.2" cy="215.8" r="2.25"/><circle cx="67.6" cy="219.8" r="2.25"/><circle cx="72.1" cy="216.4" r="2.25"/><circle cx="73.2" cy="211.3" r="2.25"/><circle cx="77.8" cy="213.0" r="2.25"/><circle cx="76.6" cy="217.5" r="2.25"/><circle cx="81.7" cy="210.7" r="2.25"/><circle cx="87.4" cy="207.3" r="2.25"/><circle cx="84.6" cy="214.7" r="2.25"/><circle cx="89.7" cy="211.8" r="2.25"/><circle cx="90.2" cy="215.8" r="2.25"/><circle cx="84.0" cy="219.8" r="2.25"/><circle cx="77.8" cy="223.1" r="2.25"/><circle cx="82.3" cy="225.6" r="2.25"/><circle cx="90.2" cy="223.1" r="2.25"/><circle cx="72.1" cy="221.5" r="2.25"/><circle cx="61.9" cy="219.8" r="2.25"/><circle cx="94.8" cy="201.1" r="2.25"/><circle cx="105.0" cy="200.5" r="2.25"/><circle cx="101.6" cy="204.5" r="2.25"/><circle cx="95.4" cy="205.0" r="2.25"/><circle cx="99.4" cy="209.6" r="2.25"/><circle cx="93.7" cy="211.8" r="2.25"/><circle cx="115.8" cy="205.6" r="2.25"/><circle cx="122.8" cy="204.1" r="2.25"/><circle cx="121.4" cy="209.6" r="2.25"/><circle cx="149.5" cy="207.3" r="2.25"/><circle cx="144.0" cy="210.7" r="2.25"/><circle cx="135.6" cy="211.3" r="2.25"/><circle cx="153.7" cy="211.3" r="2.25"/><circle cx="106.7" cy="210.7" r="2.25"/><circle cx="112.4" cy="211.3" r="2.25"/><circle cx="110.1" cy="214.1" r="2.25"/><circle cx="115.8" cy="214.7" r="2.25"/><circle cx="125.4" cy="213.5" r="2.25"/><circle cx="130.5" cy="215.2" r="2.25"/><circle cx="139.5" cy="214.1" r="2.25"/><circle cx="146.3" cy="215.8" r="2.25"/><circle cx="152.0" cy="214.7" r="2.25"/><circle cx="96.5" cy="215.8" r="2.25"/><circle cx="102.2" cy="216.9" r="2.25"/><circle cx="107.3" cy="218.1" r="2.25"/><circle cx="113.5" cy="218.6" r="2.25"/><circle cx="119.1" cy="217.5" r="2.25"/><circle cx="124.8" cy="218.6" r="2.25"/><circle cx="131.6" cy="219.2" r="2.25"/><circle cx="137.2" cy="218.1" r="2.25"/><circle cx="141.8" cy="219.8" r="2.25"/><circle cx="148.6" cy="220.3" r="2.25"/><circle cx="154.2" cy="218.6" r="2.25"/><circle cx="93.1" cy="222.0" r="2.25"/><circle cx="104.4" cy="222.0" r="2.25"/><circle cx="114.6" cy="222.0" r="2.25"/><circle cx="122.0" cy="222.6" r="2.25"/><circle cx="129.3" cy="223.1" r="2.25"/><circle cx="139.5" cy="223.1" r="2.25"/><circle cx="145.2" cy="222.6" r="2.25"/><circle cx="101.0" cy="226.0" r="2.25"/><circle cx="125.9" cy="226.0" r="2.25"/><circle cx="136.7" cy="227.1" r="2.25"/><circle cx="147.4" cy="226.5" r="2.25"/><circle cx="130.5" cy="226.0" r="2.25"/><circle cx="94.3" cy="224.3" r="2.25"/><circle cx="87.1" cy="230.3" r="2.25"/><circle cx="143.3" cy="233.6" r="2.25"/><circle cx="160.9" cy="203.7" r="2.25"/><circle cx="167.1" cy="201.4" r="2.25"/><circle cx="171.7" cy="200.8" r="2.25"/><circle cx="155.8" cy="210.7" r="2.25"/><circle cx="162.1" cy="210.7" r="2.25"/><circle cx="167.1" cy="212.4" r="2.25"/><circle cx="177.3" cy="213.5" r="2.25"/><circle cx="159.2" cy="215.8" r="2.25"/><circle cx="164.9" cy="216.4" r="2.25"/><circle cx="171.7" cy="216.9" r="2.25"/><circle cx="176.2" cy="218.1" r="2.25"/><circle cx="157.0" cy="219.8" r="2.25"/><circle cx="163.8" cy="220.3" r="2.25"/><circle cx="169.4" cy="220.3" r="2.25"/><circle cx="175.1" cy="221.5" r="2.25"/><circle cx="178.5" cy="223.1" r="2.25"/><circle cx="154.7" cy="223.7" r="2.25"/><circle cx="161.5" cy="223.1" r="2.25"/><circle cx="167.1" cy="223.7" r="2.25"/><circle cx="172.8" cy="223.1" r="2.25"/><circle cx="176.2" cy="226.5" r="2.25"/><circle cx="40.4" cy="211.8" r="2.25"/><circle cx="39.3" cy="216.4" r="2.25"/><circle cx="43.8" cy="215.2" r="2.25"/><circle cx="50.6" cy="208.4" r="2.25"/><circle cx="50.6" cy="217.5" r="2.25"/><circle cx="56.3" cy="211.8" r="2.25"/><circle cx="60.8" cy="208.4" r="2.25"/><circle cx="61.9" cy="215.2" r="2.25"/><circle cx="66.5" cy="211.8" r="2.25"/><circle cx="69.9" cy="210.7" r="2.25"/><circle cx="71.0" cy="214.1" r="2.25"/><circle cx="80.0" cy="215.2" r="2.25"/><circle cx="82.3" cy="217.5" r="2.25"/><circle cx="85.7" cy="210.7" r="2.25"/><circle cx="88.0" cy="213.0" r="2.25"/><circle cx="86.8" cy="218.6" r="2.25"/><circle cx="91.3" cy="218.6" r="2.25"/><circle cx="73.2" cy="219.8" r="2.25"/><circle cx="42.7" cy="218.6" r="2.25"/><circle cx="78.9" cy="209.6" r="2.25"/><circle cx="103.3" cy="213.0" r="2.25"/><circle cx="109.0" cy="216.4" r="2.25"/><circle cx="99.9" cy="217.5" r="2.25"/><circle cx="97.7" cy="220.3" r="2.25"/><circle cx="109.0" cy="220.3" r="2.25"/><circle cx="118.0" cy="213.0" r="2.25"/><circle cx="119.1" cy="220.9" r="2.25"/><circle cx="128.2" cy="216.4" r="2.25"/><circle cx="125.9" cy="221.5" r="2.25"/><circle cx="135.0" cy="215.8" r="2.25"/><circle cx="133.9" cy="222.0" r="2.25"/><circle cx="139.5" cy="216.9" r="2.25"/><circle cx="142.9" cy="214.1" r="2.25"/><circle cx="144.0" cy="219.2" r="2.25"/><circle cx="149.7" cy="213.5" r="2.25"/><circle cx="150.8" cy="217.5" r="2.25"/><circle cx="153.1" cy="223.1" r="2.25"/><circle cx="155.3" cy="216.4" r="2.25"/><circle cx="114.6" cy="223.7" r="2.25"/><circle cx="105.6" cy="224.8" r="2.25"/><circle cx="139.5" cy="224.8" r="2.25"/><circle cx="120.3" cy="215.8" r="2.25"/><circle cx="129.3" cy="211.8" r="2.25"/><circle cx="102.2" cy="209.6" r="2.25"/><circle cx="147.9" cy="213.0" r="2.25"/><circle cx="152.4" cy="218.1" r="2.25"/><circle cx="159.2" cy="212.4" r="2.25"/><circle cx="158.1" cy="219.2" r="2.25"/><circle cx="162.6" cy="218.6" r="2.25"/><circle cx="170.0" cy="214.7" r="2.25"/><circle cx="172.8" cy="220.3" r="2.25"/><circle cx="173.9" cy="215.8" r="2.25"/><circle cx="168.3" cy="223.1" r="2.25"/><circle cx="157.0" cy="223.7" r="2.25"/><circle cx="171.7" cy="224.8" r="2.25"/><circle cx="144.5" cy="217.5" r="2.25"/><circle cx="105.8" cy="191.0" r="2.25"/></g><g><line x1="238.85" y1="154.80" x2="238.85" y2="282.82" stroke="#000" stroke-width="1.3" stroke-dasharray="1.3 2.427"/><line x1="250.85" y1="154.80" x2="250.85" y2="282.82" stroke="#000" stroke-width="1.3" stroke-dasharray="1.3 2.427"/><line x1="262.95" y1="154.80" x2="262.95" y2="282.82" stroke="#000" stroke-width="1.3" stroke-dasharray="1.3 2.427"/><line x1="274.65" y1="154.80" x2="274.65" y2="282.82" stroke="#000" stroke-width="1.3" stroke-dasharray="1.3 2.427"/><line x1="286.55" y1="154.80" x2="286.55" y2="282.82" stroke="#000" stroke-width="1.3" stroke-dasharray="1.3 2.427"/><line x1="298.65" y1="154.80" x2="298.65" y2="282.82" stroke="#000" stroke-width="1.3" stroke-dasharray="1.3 2.427"/><line x1="309.95" y1="154.80" x2="309.95" y2="282.82" stroke="#000" stroke-width="1.3" stroke-dasharray="1.3 2.427"/><line x1="322.45" y1="154.80" x2="322.45" y2="282.82" stroke="#000" stroke-width="1.3" stroke-dasharray="1.3 2.427"/><line x1="335.65" y1="154.80" x2="335.65" y2="282.82" stroke="#000" stroke-width="1.3" stroke-dasharray="1.3 2.427"/><line x1="348.05" y1="154.80" x2="348.05" y2="282.82" stroke="#000" stroke-width="1.3" stroke-dasharray="1.3 2.427"/><line x1="359.00" y1="154.80" x2="359.00" y2="282.82" stroke="#000" stroke-width="1.3" stroke-dasharray="1.3 2.427"/><line x1="371.00" y1="154.80" x2="371.00" y2="282.82" stroke="#000" stroke-width="1.3" stroke-dasharray="1.3 2.427"/><line x1="221.9" y1="156.95" x2="221.9" y2="278.35" stroke="#000" stroke-width="1.7"/><line x1="216.80" y1="157.70" x2="221.90" y2="157.70" stroke="#000" stroke-width="1.5"/><text transform="translate(214.30,158.20) rotate(-90)" font-size="7.6" text-anchor="middle">0.04</text><line x1="216.80" y1="187.68" x2="221.90" y2="187.68" stroke="#000" stroke-width="1.5"/><text transform="translate(214.30,188.18) rotate(-90)" font-size="7.6" text-anchor="middle">0.02</text><line x1="216.80" y1="217.65" x2="221.90" y2="217.65" stroke="#000" stroke-width="1.5"/><text transform="translate(214.30,218.15) rotate(-90)" font-size="7.6" text-anchor="middle">0.00</text><line x1="216.80" y1="247.62" x2="221.90" y2="247.62" stroke="#000" stroke-width="1.5"/><text transform="translate(214.30,248.12) rotate(-90)" font-size="7.6" text-anchor="middle">−0.02</text><line x1="216.80" y1="277.60" x2="221.90" y2="277.60" stroke="#000" stroke-width="1.5"/><text transform="translate(214.30,278.10) rotate(-90)" font-size="7.6" text-anchor="middle">−0.04</text><line x1="216.80" y1="217.60" x2="376.8" y2="217.60" stroke="#000" stroke-width="1.5"/><text transform="translate(202.90,217.95) rotate(-90)" font-size="9.9" text-anchor="middle">Intensities</text><text x="284.20" y="293.90" font-size="9.75">Position</text><text x="196.80" y="157.70" font-size="14.5" font-weight="bold">e</text><polyline fill="none" stroke="#000" stroke-linecap="round" stroke-linejoin="round" stroke-width="7" points="228.5,214.4 237.0,215.2 248.2,218.0 262.4,219.2 276.5,219.2 287.8,218.6 296.3,215.8 307.6,215.2 318.9,216.3 333.0,216.9 347.1,217.2 361.2,218.6 369.7,219.2"/><circle cx="227.9" cy="208.5" r="2.25"/><circle cx="246.9" cy="207.7" r="2.25"/><circle cx="228.5" cy="212.4" r="2.25"/><circle cx="229.0" cy="216.4" r="2.25"/><circle cx="229.0" cy="220.4" r="2.25"/><circle cx="232.4" cy="211.3" r="2.25"/><circle cx="233.0" cy="215.8" r="2.25"/><circle cx="234.1" cy="219.2" r="2.25"/><circle cx="237.0" cy="212.4" r="2.25"/><circle cx="238.1" cy="216.4" r="2.25"/><circle cx="239.2" cy="220.4" r="2.25"/><circle cx="241.5" cy="212.4" r="2.25"/><circle cx="242.6" cy="217.0" r="2.25"/><circle cx="245.5" cy="222.1" r="2.25"/><circle cx="246.0" cy="214.7" r="2.25"/><circle cx="247.1" cy="218.7" r="2.25"/><circle cx="250.0" cy="211.9" r="2.25"/><circle cx="251.1" cy="217.0" r="2.25"/><circle cx="253.9" cy="219.8" r="2.25"/><circle cx="256.2" cy="216.4" r="2.25"/><circle cx="257.3" cy="221.5" r="2.25"/><circle cx="259.6" cy="215.8" r="2.25"/><circle cx="262.4" cy="218.7" r="2.25"/><circle cx="263.0" cy="224.3" r="2.25"/><circle cx="265.2" cy="215.8" r="2.25"/><circle cx="269.2" cy="211.9" r="2.25"/><circle cx="268.6" cy="217.0" r="2.25"/><circle cx="267.5" cy="220.9" r="2.25"/><circle cx="272.6" cy="214.7" r="2.25"/><circle cx="273.2" cy="219.2" r="2.25"/><circle cx="276.6" cy="215.8" r="2.25"/><circle cx="276.6" cy="221.5" r="2.25"/><circle cx="280.0" cy="214.7" r="2.25"/><circle cx="281.1" cy="219.2" r="2.25"/><circle cx="282.8" cy="224.3" r="2.25"/><circle cx="282.3" cy="224.9" r="2.25"/><circle cx="286.2" cy="212.4" r="2.25"/><circle cx="286.8" cy="217.5" r="2.25"/><circle cx="286.2" cy="222.6" r="2.25"/><circle cx="290.7" cy="214.1" r="2.25"/><circle cx="291.3" cy="218.7" r="2.25"/><circle cx="290.2" cy="223.2" r="2.25"/><circle cx="295.3" cy="212.4" r="2.25"/><circle cx="295.8" cy="217.0" r="2.25"/><circle cx="294.7" cy="221.5" r="2.25"/><circle cx="299.8" cy="211.3" r="2.25"/><circle cx="300.4" cy="215.8" r="2.25"/><circle cx="299.2" cy="219.8" r="2.25"/><circle cx="304.3" cy="210.2" r="2.25"/><circle cx="304.9" cy="214.7" r="2.25"/><circle cx="304.3" cy="218.7" r="2.25"/><circle cx="308.8" cy="210.7" r="2.25"/><circle cx="309.4" cy="215.3" r="2.25"/><circle cx="310.0" cy="220.4" r="2.25"/><circle cx="313.9" cy="212.4" r="2.25"/><circle cx="314.5" cy="217.0" r="2.25"/><circle cx="316.2" cy="221.5" r="2.25"/><circle cx="318.5" cy="213.6" r="2.25"/><circle cx="319.6" cy="218.1" r="2.25"/><circle cx="323.0" cy="212.4" r="2.25"/><circle cx="324.1" cy="217.0" r="2.25"/><circle cx="323.0" cy="221.5" r="2.25"/><circle cx="328.1" cy="211.9" r="2.25"/><circle cx="328.6" cy="216.4" r="2.25"/><circle cx="328.6" cy="220.9" r="2.25"/><circle cx="333.2" cy="212.4" r="2.25"/><circle cx="333.7" cy="217.0" r="2.25"/><circle cx="334.9" cy="221.5" r="2.25"/><circle cx="338.3" cy="213.0" r="2.25"/><circle cx="338.8" cy="217.5" r="2.25"/><circle cx="342.8" cy="212.4" r="2.25"/><circle cx="342.8" cy="217.0" r="2.25"/><circle cx="342.2" cy="220.9" r="2.25"/><circle cx="339.4" cy="222.1" r="2.25"/><circle cx="344.4" cy="213.6" r="2.25"/><circle cx="344.4" cy="218.7" r="2.25"/><circle cx="349.0" cy="214.7" r="2.25"/><circle cx="349.0" cy="219.8" r="2.25"/><circle cx="353.5" cy="212.4" r="2.25"/><circle cx="354.1" cy="217.0" r="2.25"/><circle cx="354.1" cy="222.1" r="2.25"/><circle cx="358.0" cy="215.8" r="2.25"/><circle cx="359.1" cy="220.9" r="2.25"/><circle cx="359.1" cy="225.5" r="2.25"/><circle cx="362.5" cy="218.1" r="2.25"/><circle cx="363.7" cy="222.6" r="2.25"/><circle cx="367.1" cy="215.8" r="2.25"/><circle cx="366.5" cy="220.4" r="2.25"/><circle cx="368.2" cy="225.5" r="2.25"/><circle cx="369.9" cy="214.7" r="2.25"/><circle cx="370.5" cy="219.8" r="2.25"/><circle cx="371.0" cy="223.8" r="2.25"/><circle cx="230.7" cy="214.1" r="2.25"/><circle cx="230.7" cy="218.1" r="2.25"/><circle cx="235.3" cy="213.6" r="2.25"/><circle cx="235.8" cy="217.0" r="2.25"/><circle cx="235.8" cy="221.5" r="2.25"/><circle cx="239.8" cy="214.1" r="2.25"/><circle cx="240.4" cy="218.7" r="2.25"/><circle cx="243.8" cy="214.7" r="2.25"/><circle cx="244.3" cy="220.4" r="2.25"/><circle cx="248.3" cy="217.0" r="2.25"/><circle cx="248.3" cy="213.0" r="2.25"/><circle cx="252.2" cy="214.7" r="2.25"/><circle cx="252.8" cy="219.2" r="2.25"/><circle cx="257.9" cy="218.7" r="2.25"/><circle cx="260.7" cy="218.7" r="2.25"/><circle cx="261.3" cy="221.5" r="2.25"/><circle cx="264.7" cy="218.7" r="2.25"/><circle cx="266.4" cy="214.1" r="2.25"/><circle cx="270.3" cy="214.7" r="2.25"/><circle cx="270.9" cy="219.2" r="2.25"/><circle cx="270.9" cy="222.6" r="2.25"/><circle cx="274.9" cy="217.0" r="2.25"/><circle cx="274.9" cy="222.6" r="2.25"/><circle cx="278.3" cy="218.1" r="2.25"/><circle cx="278.8" cy="223.2" r="2.25"/><circle cx="281.7" cy="222.1" r="2.25"/><circle cx="283.3" cy="220.4" r="2.25"/><circle cx="255.1" cy="222.1" r="2.25"/><circle cx="283.4" cy="217.0" r="2.25"/><circle cx="288.5" cy="220.4" r="2.25"/><circle cx="283.4" cy="222.6" r="2.25"/><circle cx="292.4" cy="219.2" r="2.25"/><circle cx="298.1" cy="220.9" r="2.25"/><circle cx="306.0" cy="218.7" r="2.25"/><circle cx="313.9" cy="219.2" r="2.25"/><circle cx="318.5" cy="220.9" r="2.25"/><circle cx="325.8" cy="219.2" r="2.25"/><circle cx="330.9" cy="219.2" r="2.25"/><circle cx="336.6" cy="219.8" r="2.25"/><circle cx="341.7" cy="219.2" r="2.25"/><circle cx="288.5" cy="215.3" r="2.25"/><circle cx="336.5" cy="215.8" r="2.25"/><circle cx="341.6" cy="215.3" r="2.25"/><circle cx="342.2" cy="219.8" r="2.25"/><circle cx="346.7" cy="216.4" r="2.25"/><circle cx="346.7" cy="222.1" r="2.25"/><circle cx="351.2" cy="217.0" r="2.25"/><circle cx="351.2" cy="222.1" r="2.25"/><circle cx="356.3" cy="214.1" r="2.25"/><circle cx="356.9" cy="219.8" r="2.25"/><circle cx="360.8" cy="222.6" r="2.25"/><circle cx="364.8" cy="219.8" r="2.25"/><circle cx="365.9" cy="223.2" r="2.25"/><circle cx="368.2" cy="218.1" r="2.25"/><circle cx="362.5" cy="215.3" r="2.25"/></g><g><line x1="429.60" y1="153.10" x2="429.60" y2="281.12" stroke="#000" stroke-width="1.3" stroke-dasharray="1.3 2.427"/><line x1="442.50" y1="153.10" x2="442.50" y2="281.12" stroke="#000" stroke-width="1.3" stroke-dasharray="1.3 2.427"/><line x1="454.70" y1="153.10" x2="454.70" y2="281.12" stroke="#000" stroke-width="1.3" stroke-dasharray="1.3 2.427"/><line x1="464.10" y1="153.10" x2="464.10" y2="281.12" stroke="#000" stroke-width="1.3" stroke-dasharray="1.3 2.427"/><line x1="475.80" y1="153.10" x2="475.80" y2="281.12" stroke="#000" stroke-width="1.3" stroke-dasharray="1.3 2.427"/><line x1="489.25" y1="153.10" x2="489.25" y2="281.12" stroke="#000" stroke-width="1.3" stroke-dasharray="1.3 2.427"/><line x1="501.10" y1="153.10" x2="501.10" y2="281.12" stroke="#000" stroke-width="1.3" stroke-dasharray="1.3 2.427"/><line x1="513.80" y1="153.10" x2="513.80" y2="281.12" stroke="#000" stroke-width="1.3" stroke-dasharray="1.3 2.427"/><line x1="528.70" y1="153.10" x2="528.70" y2="281.12" stroke="#000" stroke-width="1.3" stroke-dasharray="1.3 2.427"/><line x1="542.10" y1="153.10" x2="542.10" y2="281.12" stroke="#000" stroke-width="1.3" stroke-dasharray="1.3 2.427"/><line x1="552.10" y1="153.10" x2="552.10" y2="281.12" stroke="#000" stroke-width="1.3" stroke-dasharray="1.3 2.427"/><line x1="560.20" y1="153.10" x2="560.20" y2="281.12" stroke="#000" stroke-width="1.3" stroke-dasharray="1.3 2.427"/><line x1="411.75" y1="163.45" x2="411.75" y2="267.75" stroke="#000" stroke-width="1.7"/><line x1="406.65" y1="164.20" x2="411.75" y2="164.20" stroke="#000" stroke-width="1.5"/><text transform="translate(404.20,164.70) rotate(-90)" font-size="7.6" text-anchor="middle">0.06</text><line x1="406.65" y1="181.33" x2="411.75" y2="181.33" stroke="#000" stroke-width="1.5"/><line x1="406.65" y1="198.47" x2="411.75" y2="198.47" stroke="#000" stroke-width="1.5"/><text transform="translate(404.20,198.97) rotate(-90)" font-size="7.6" text-anchor="middle">0.02</text><line x1="406.65" y1="215.60" x2="411.75" y2="215.60" stroke="#000" stroke-width="1.5"/><line x1="406.65" y1="232.73" x2="411.75" y2="232.73" stroke="#000" stroke-width="1.5"/><text transform="translate(404.20,233.23) rotate(-90)" font-size="7.6" text-anchor="middle">−0.02</text><line x1="406.65" y1="249.87" x2="411.75" y2="249.87" stroke="#000" stroke-width="1.5"/><line x1="406.65" y1="267.00" x2="411.75" y2="267.00" stroke="#000" stroke-width="1.5"/><text transform="translate(404.20,267.50) rotate(-90)" font-size="7.6" text-anchor="middle">−0.06</text><line x1="406.65" y1="215.60" x2="566" y2="215.60" stroke="#000" stroke-width="1.5"/><text transform="translate(392.60,215.25) rotate(-90)" font-size="9.9" text-anchor="middle">Intensities</text><text x="473.50" y="291.95" font-size="9.75">Position</text><text x="387.50" y="157.70" font-size="14.5" font-weight="bold">f</text><polyline fill="none" stroke="#000" stroke-linecap="round" stroke-linejoin="round" stroke-width="4.5" points="424.0,216.6 560.0,216.4"/><circle cx="427.9" cy="195.5" r="2.25"/><circle cx="432.1" cy="202.1" r="2.25"/><circle cx="423.0" cy="204.6" r="2.25"/><circle cx="438.1" cy="205.2" r="2.25"/><circle cx="447.9" cy="207.0" r="2.25"/><circle cx="426.4" cy="210.1" r="2.25"/><circle cx="440.5" cy="210.6" r="2.25"/><circle cx="424.7" cy="214.6" r="2.25"/><circle cx="436.0" cy="213.5" r="2.25"/><circle cx="450.2" cy="212.3" r="2.25"/><circle cx="455.2" cy="211.2" r="2.25"/><circle cx="459.2" cy="208.4" r="2.25"/><circle cx="467.7" cy="199.9" r="2.25"/><circle cx="465.4" cy="204.4" r="2.25"/><circle cx="471.1" cy="206.7" r="2.25"/><circle cx="466.6" cy="208.9" r="2.25"/><circle cx="471.1" cy="210.1" r="2.25"/><circle cx="463.2" cy="212.9" r="2.25"/><circle cx="467.7" cy="212.3" r="2.25"/><circle cx="443.9" cy="214.6" r="2.25"/><circle cx="457.5" cy="214.0" r="2.25"/><circle cx="430.4" cy="216.3" r="2.25"/><circle cx="439.4" cy="216.8" r="2.25"/><circle cx="448.5" cy="216.8" r="2.25"/><circle cx="455.2" cy="216.8" r="2.25"/><circle cx="462.0" cy="216.3" r="2.25"/><circle cx="471.1" cy="215.7" r="2.25"/><circle cx="420.2" cy="219.7" r="2.25"/><circle cx="433.8" cy="219.1" r="2.25"/><circle cx="427.0" cy="217.4" r="2.25"/><circle cx="417.4" cy="232.9" r="2.25"/><circle cx="420.2" cy="236.3" r="2.25"/><circle cx="417.9" cy="225.6" r="2.25"/><circle cx="419.6" cy="221.6" r="2.25"/><circle cx="433.2" cy="230.7" r="2.25"/><circle cx="429.2" cy="222.7" r="2.25"/><circle cx="431.5" cy="220.5" r="2.25"/><circle cx="443.9" cy="226.7" r="2.25"/><circle cx="446.2" cy="226.1" r="2.25"/><circle cx="445.1" cy="221.6" r="2.25"/><circle cx="455.2" cy="223.3" r="2.25"/><circle cx="459.2" cy="222.7" r="2.25"/><circle cx="464.6" cy="226.7" r="2.25"/><circle cx="472.0" cy="227.3" r="2.25"/><circle cx="437.1" cy="219.4" r="2.25"/><circle cx="441.7" cy="218.8" r="2.25"/><circle cx="449.6" cy="218.8" r="2.25"/><circle cx="454.1" cy="219.9" r="2.25"/><circle cx="463.2" cy="217.1" r="2.25"/><circle cx="468.8" cy="217.1" r="2.25"/><circle cx="480.2" cy="203.8" r="2.25"/><circle cx="479.6" cy="208.4" r="2.25"/><circle cx="476.2" cy="212.9" r="2.25"/><circle cx="482.4" cy="214.0" r="2.25"/><circle cx="492.6" cy="210.1" r="2.25"/><circle cx="497.1" cy="208.9" r="2.25"/><circle cx="506.2" cy="206.7" r="2.25"/><circle cx="510.7" cy="208.9" r="2.25"/><circle cx="518.6" cy="202.1" r="2.25"/><circle cx="522.0" cy="205.0" r="2.25"/><circle cx="526.0" cy="206.1" r="2.25"/><circle cx="532.8" cy="198.7" r="2.25"/><circle cx="520.9" cy="210.1" r="2.25"/><circle cx="526.6" cy="210.6" r="2.25"/><circle cx="531.7" cy="208.4" r="2.25"/><circle cx="490.4" cy="214.0" r="2.25"/><circle cx="498.3" cy="213.5" r="2.25"/><circle cx="503.9" cy="212.3" r="2.25"/><circle cx="510.7" cy="213.5" r="2.25"/><circle cx="516.4" cy="212.3" r="2.25"/><circle cx="531.1" cy="212.9" r="2.25"/><circle cx="473.4" cy="216.3" r="2.25"/><circle cx="480.2" cy="216.8" r="2.25"/><circle cx="487.0" cy="216.3" r="2.25"/><circle cx="494.9" cy="217.4" r="2.25"/><circle cx="501.7" cy="216.8" r="2.25"/><circle cx="508.5" cy="217.4" r="2.25"/><circle cx="515.2" cy="218.0" r="2.25"/><circle cx="522.0" cy="216.3" r="2.25"/><circle cx="528.8" cy="216.3" r="2.25"/><circle cx="472.3" cy="219.7" r="2.25"/><circle cx="497.1" cy="220.2" r="2.25"/><circle cx="505.1" cy="219.7" r="2.25"/><circle cx="517.5" cy="219.7" r="2.25"/><circle cx="524.3" cy="220.2" r="2.25"/><circle cx="477.4" cy="229.0" r="2.25"/><circle cx="484.5" cy="232.9" r="2.25"/><circle cx="506.4" cy="239.1" r="2.25"/><circle cx="486.4" cy="223.9" r="2.25"/><circle cx="494.9" cy="226.7" r="2.25"/><circle cx="498.8" cy="223.9" r="2.25"/><circle cx="509.0" cy="225.2" r="2.25"/><circle cx="516.4" cy="226.1" r="2.25"/><circle cx="517.5" cy="222.2" r="2.25"/><circle cx="525.1" cy="221.0" r="2.25"/><circle cx="530.0" cy="219.4" r="2.25"/><circle cx="490.4" cy="220.5" r="2.25"/><circle cx="474.5" cy="219.4" r="2.25"/><circle cx="490.4" cy="223.3" r="2.25"/><circle cx="535.4" cy="205.5" r="2.25"/><circle cx="542.2" cy="203.8" r="2.25"/><circle cx="546.7" cy="205.0" r="2.25"/><circle cx="538.8" cy="208.9" r="2.25"/><circle cx="544.4" cy="209.5" r="2.25"/><circle cx="552.9" cy="207.2" r="2.25"/><circle cx="548.9" cy="211.2" r="2.25"/><circle cx="560.3" cy="210.1" r="2.25"/><circle cx="539.3" cy="215.1" r="2.25"/><circle cx="549.5" cy="216.3" r="2.25"/><circle cx="555.2" cy="215.1" r="2.25"/><circle cx="559.7" cy="217.4" r="2.25"/><circle cx="551.8" cy="219.1" r="2.25"/><circle cx="537.1" cy="226.7" r="2.25"/><circle cx="542.2" cy="225.3" r="2.25"/><circle cx="550.6" cy="221.6" r="2.25"/><circle cx="558.6" cy="218.2" r="2.25"/><circle cx="559.7" cy="220.5" r="2.25"/><circle cx="541.6" cy="216.0" r="2.25"/><circle cx="535.0" cy="212.5" r="2.25"/><circle cx="431.5" cy="214.6" r="2.25"/><circle cx="436.0" cy="216.8" r="2.25"/><circle cx="440.5" cy="214.0" r="2.25"/><circle cx="447.3" cy="215.1" r="2.25"/><circle cx="453.0" cy="215.1" r="2.25"/><circle cx="459.8" cy="212.3" r="2.25"/><circle cx="459.8" cy="216.3" r="2.25"/><circle cx="466.6" cy="215.7" r="2.25"/><circle cx="422.4" cy="216.8" r="2.25"/><circle cx="443.9" cy="218.0" r="2.25"/><circle cx="451.9" cy="218.5" r="2.25"/><circle cx="457.5" cy="219.1" r="2.25"/><circle cx="464.3" cy="219.1" r="2.25"/><circle cx="471.1" cy="218.5" r="2.25"/><circle cx="427.0" cy="219.7" r="2.25"/><circle cx="439.4" cy="219.7" r="2.25"/><circle cx="494.9" cy="212.3" r="2.25"/><circle cx="500.5" cy="210.6" r="2.25"/><circle cx="507.3" cy="210.6" r="2.25"/><circle cx="515.2" cy="209.5" r="2.25"/><circle cx="524.3" cy="208.4" r="2.25"/><circle cx="528.8" cy="208.4" r="2.25"/><circle cx="485.8" cy="212.3" r="2.25"/><circle cx="473.4" cy="213.5" r="2.25"/><circle cx="476.8" cy="216.8" r="2.25"/><circle cx="483.6" cy="219.1" r="2.25"/><circle cx="492.6" cy="217.4" r="2.25"/><circle cx="500.5" cy="218.5" r="2.25"/><circle cx="511.9" cy="216.8" r="2.25"/><circle cx="519.8" cy="214.6" r="2.25"/><circle cx="526.6" cy="214.6" r="2.25"/><circle cx="532.2" cy="217.4" r="2.25"/><circle cx="513.0" cy="219.7" r="2.25"/><circle cx="541.6" cy="212.3" r="2.25"/><circle cx="535.9" cy="210.1" r="2.25"/><circle cx="554.0" cy="217.4" r="2.25"/><circle cx="547.2" cy="217.6" r="2.25"/><circle cx="508.8" cy="211.2" r="2.25"/><circle cx="505.4" cy="214.2" r="2.25"/></g></svg>
</body></html>
